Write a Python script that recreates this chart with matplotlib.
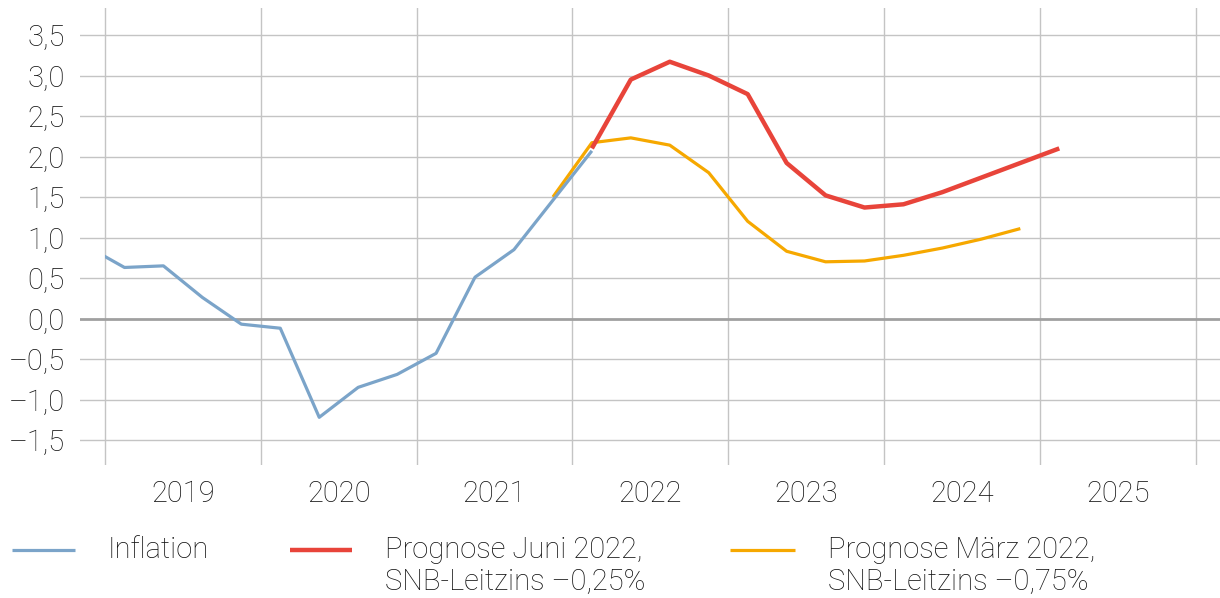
import numpy as np
import matplotlib.pyplot as plt
from matplotlib.lines import Line2D
from matplotlib.patches import Rectangle

# -------------------------------
# Data (quarterly, Q4 2018 to Q1 2025)
# -------------------------------
inflation_q = ["2018Q4", "2019Q1", "2019Q2", "2019Q3", "2019Q4",
               "2020Q1", "2020Q2", "2020Q3", "2020Q4",
               "2021Q1", "2021Q2", "2021Q3", "2021Q4", "2022Q1"]
inflation = [0.90, 0.63, 0.65, 0.26, -0.07,
             -0.12, -1.22, -0.85, -0.69,
             -0.43, 0.51, 0.85, 1.46, 2.07]

juni_q = ["2022Q1", "2022Q2", "2022Q3", "2022Q4",
          "2023Q1", "2023Q2", "2023Q3", "2023Q4",
          "2024Q1", "2024Q2", "2024Q3", "2024Q4", "2025Q1"]
juni = [2.10, 2.95, 3.17, 3.00,
        2.77, 1.92, 1.52, 1.37,
        1.41, 1.56, 1.74, 1.92, 2.10]

maerz_q = ["2021Q4", "2022Q1", "2022Q2", "2022Q3", "2022Q4",
           "2023Q1", "2023Q2", "2023Q3", "2023Q4",
           "2024Q1", "2024Q2", "2024Q3", "2024Q4"]
maerz = [1.50, 2.17, 2.23, 2.14, 1.80,
         1.20, 0.83, 0.70, 0.71,
         0.78, 0.87, 0.98, 1.11]

years = [2019, 2020, 2021, 2022, 2023, 2024, 2025]
y_ticks = [-1.5, -1.0, -0.5, 0.0, 0.5, 1.0, 1.5, 2.0, 2.5, 3.0, 3.5]

labels = ["Inflation",
          "Prognose Juni 2022,\nSNB-Leitzins –0,25%",
          "Prognose März 2022,\nSNB-Leitzins –0,75%"]
colors = ["#7ba4c9", "#e8443a", "#f6a800"]


def qpos(q):
    # quarter midpoint as decimal year
    return int(q[:4]) + (int(q[-1]) - 0.5) / 4


# -------------------------------
# Plot
# -------------------------------
plt.rcParams['font.family'] = ['Roboto', 'DejaVu Sans']
plt.rcParams['font.weight'] = 'light'
txt_color = "#111111"
fs = 21

fig = plt.figure(figsize=(12.2, 5.98), dpi=100)
ax = fig.add_axes([80 / 1220, 133 / 598, 1140 / 1220, 457 / 598])

ax.plot([qpos(q) for q in maerz_q], maerz, color=colors[2], lw=2.3,
        solid_capstyle='butt', zorder=3)
l_inf, = ax.plot([qpos(q) for q in inflation_q], inflation, color=colors[0],
                 lw=2.3, solid_capstyle='butt', zorder=4)
l_inf.set_clip_path(Rectangle((2019, -5), 10, 10, transform=ax.transData))
ax.plot([qpos(q) for q in juni_q], juni, color=colors[1], lw=3.2,
        solid_capstyle='butt', zorder=5)

ax.set_xlim(2019 - 25 / 155.8, 2019 + 1115 / 155.8)
ax.set_ylim(-1.5 - 25 / 81, 3.5 + 27 / 81)

# grid
for v in y_ticks:
    if v == 0:
        ax.axhline(v, color="#a0a0a0", lw=2.0, zorder=2)
    else:
        ax.axhline(v, color="#c4c4c4", lw=1.0, zorder=1)
for yr in years + [2026]:
    ax.axvline(yr, color="#c4c4c4", lw=1.0, zorder=1)

for s in ax.spines.values():
    s.set_visible(False)

ax.set_yticks(y_ticks)
ax.set_yticklabels([f"{v:.1f}".replace(".", ",").replace("-", "–") for v in y_ticks])
ax.tick_params(axis='y', length=0, pad=11, labelsize=fs, labelcolor=txt_color)

ax.set_xticks([y + 0.5 for y in years])
ax.set_xticklabels([str(y) for y in years])
ax.tick_params(axis='x', length=0, pad=11, labelsize=fs, labelcolor=txt_color)

# legend
leg_x = [(12, 75, 108), (290, 352, 385), (730, 795, 828)]
for (x0, x1, xt), c, lab, lw in zip(leg_x, colors, labels, [2.3, 3.2, 2.3]):
    fig.add_artist(Line2D([x0 / 1220, x1 / 1220], [1 - 550 / 598] * 2,
                          color=c, lw=lw, solid_capstyle='butt'))
    fig.text(xt / 1220, 1 - 536 / 598, lab, fontsize=fs, color=txt_color,
             va='top', ha='left', linespacing=1.2)

fig.savefig("out.png", dpi=100)
